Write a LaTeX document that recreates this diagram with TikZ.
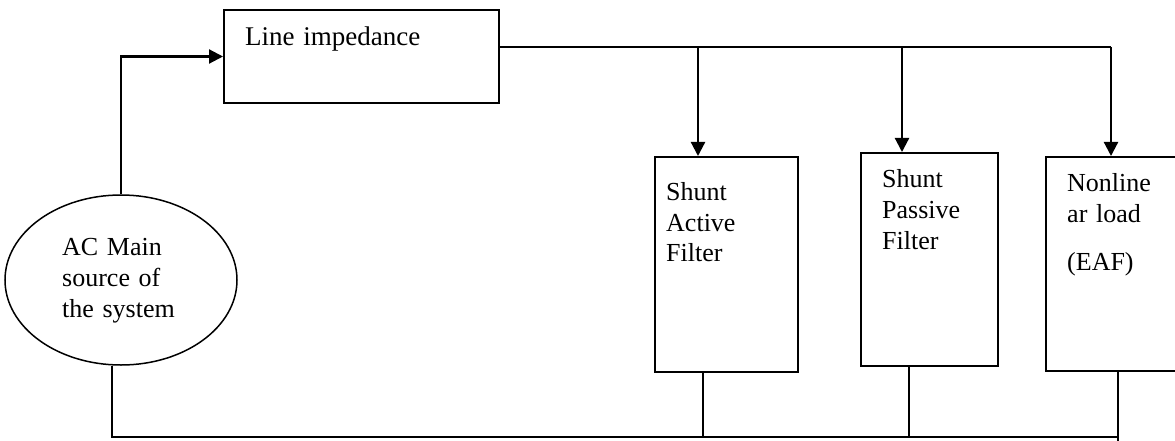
\documentclass[tikz,border=0pt]{standalone}
\usepackage{fontspec}
\setmainfont{Liberation Serif}
\usetikzlibrary{shapes,arrows.meta}

\begin{document}
\begin{tikzpicture}[
    x=1pt, y=-1pt,
    every node/.style={font=\fontsize{26}{31}\selectfont},
    block/.style={draw, rectangle, line width=2pt, inner sep=0pt},
    source/.style={draw, ellipse, line width=1.5pt, inner sep=0pt, minimum width=232pt, minimum height=170pt},
    txt/.style={anchor=base west, inner sep=0pt, align=left, text width=#1},
    txt/.default=250pt,
    wire/.style={line width=2pt},
    thin wire/.style={line width=1.5pt},
    arr/.style={line width=2.2pt, -{Triangle[length=14pt,width=14pt]}}
]
\useasboundingbox (0,0) rectangle (1175,441);

% blocks
\node[block, minimum width=275pt, minimum height=93pt] (imp) at (361.5,56.5) {};
\node[block, minimum width=143pt, minimum height=215pt] (saf) at (726.5,264.5) {};
\node[block, minimum width=137pt, minimum height=213pt] (spf) at (929.5,259.5) {};
\node[block, minimum width=144pt, minimum height=214pt] (nl) at (1118,264) {};
\node[source] (src) at (121,280) {};

% labels
\node[txt] (impT) at (245,46) {\fontsize{27}{31}\selectfont Line impedance};
\node[txt] (safT) at (666,200) {Shunt\\Active\\Filter};
\node[txt] (spfT) at (882,187) {Shunt\\Passive\\Filter};
\node[txt] (nlT) at (1067,191) {Nonline\\ar load\\[17pt](EAF)};
\node[txt] (srcT) at (62,255) {AC Main\\source of\\the system};

% supply side
\draw[arr] (src.north) |- (imp.west);
\coordinate (j1) at (698,47);
\coordinate (j2) at (902,47);
\coordinate (j3) at (1111,47);
\draw[wire] (imp.east |- j1) -- (j3);
\foreach \j/\b in {j1/saf, j2/spf, j3/nl}
    \draw[arr] (\j) -- (\j |- \b.north);

% return path
\coordinate (g0) at (112,437);
\coordinate (g1) at (703,437);
\coordinate (g2) at (909,437);
\coordinate (g3) at (1118,441);
\draw[thin wire] (g0 |- src.south) -- (g0) -- (g0 -| nl.south);
\draw[thin wire] (g1 |- saf.south) -- (g1);
\draw[thin wire] (g2 |- spf.south) -- (g2);
\draw[wire] (nl.south) -- (g3);
\end{tikzpicture}
\end{document}
